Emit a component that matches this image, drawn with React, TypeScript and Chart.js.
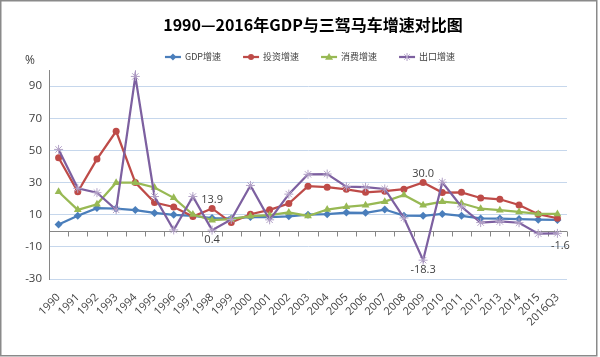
import React, { useEffect, useRef } from "react";
import { Chart, registerables } from "chart.js";

Chart.register(...registerables);

const categories = [
  "1990", "1991", "1992", "1993", "1994", "1995", "1996", "1997", "1998", "1999",
  "2000", "2001", "2002", "2003", "2004", "2005", "2006", "2007", "2008", "2009",
  "2010", "2011", "2012", "2013", "2014", "2015", "2016Q3",
];
const gdpGrowth = [
  3.9, 9.3, 14.1, 13.8, 12.9, 11.1, 9.9, 9.2, 7.9, 7.7,
  8.5, 8.5, 9.0, 10.0, 10.3, 11.3, 11.2, 13.2, 9.4, 9.3,
  10.5, 9.3, 7.7, 7.6, 7.3, 6.9, 6.7,
];
const investGrowth = [
  45.4, 24.3, 44.6, 61.9, 30.0, 17.6, 14.8, 8.9, 13.9, 5.1,
  10.3, 13.0, 16.9, 27.7, 27.1, 25.8, 23.9, 24.6, 25.9, 30.0,
  23.8, 23.9, 20.4, 19.6, 16.0, 10.3, 7.8,
];
const consumptionGrowth = [
  24.3, 13.0, 16.5, 29.9, 29.9, 26.9, 20.5, 10.1, 6.6, 7.2,
  9.1, 9.7, 11.4, 9.2, 13.2, 14.9, 15.9, 18.1, 22.3, 15.9,
  18.1, 17.1, 13.7, 12.8, 11.7, 10.5, 10.5,
];
const exportGrowth = [
  50.6, 26.4, 23.7, 13.0, 96.0, 21.3, 0.5, 21.3, 0.4, 7.0,
  28.2, 6.8, 22.8, 35.1, 35.3, 27.4, 27.1, 26.0, 8.0, -18.3,
  30.2, 14.9, 5.1, 5.8, 5.0, -1.8, -1.6,
];
const yTicks = [-30, -10, 10, 30, 50, 70, 90];
const seriesNames = ["GDP增速", "投资增速", "消费增速", "出口增速"];
const titleText = "1990—2016年GDP与三驾马车增速对比图";
const unitText = "%";
// labelled points: series index, category index, placement
const labelledSeries = [1, 3, 1, 3, 3];
const labelledIndex = [8, 8, 19, 19, 26];
const labelledPlace = ["above", "below", "above", "below", "below"];

const lineColors = ["#4A7EBB", "#BE4B48", "#98B954", "#7D60A0"];
const markerColors = ["#4A7EBB", "#BE4B48", "#98B954", "#B3A2C7"];
const markerStyles = ["rectRot", "circle", "triangle", "star"];
const markerRadii = [4, 3.5, 4.5, 4.5];
const FONT = "'Open Sans', 'Noto Sans CJK SC', sans-serif";
const CJK = "'Noto Sans CJK SC', sans-serif";

const decorPlugin = {
  id: "decor",
  beforeDraw(chart: any) {
    const ctx = chart.ctx;
    ctx.save();
    ctx.fillStyle = "#ffffff";
    ctx.fillRect(0, 0, chart.width, chart.height);
    ctx.restore();
  },
  beforeDatasetsDraw(chart: any) {
    const ctx = chart.ctx;
    const xs = chart.scales.x;
    const ys = chart.scales.y;
    const y0 = Math.round(ys.getPixelForValue(0)) + 0.5;
    const area = chart.chartArea;
    ctx.save();
    ctx.strokeStyle = "#868686";
    ctx.lineWidth = 1;
    ctx.beginPath();
    ctx.moveTo(area.left, y0);
    ctx.lineTo(area.right, y0);
    const step = xs.getPixelForValue(1) - xs.getPixelForValue(0);
    for (let i = 0; i <= categories.length; i++) {
      const x = Math.round(xs.getPixelForValue(i) - step / 2) + 0.5;
      ctx.moveTo(x, y0);
      ctx.lineTo(x, y0 + 5);
    }
    ctx.stroke();
    ctx.restore();
  },
  afterDraw(chart: any) {
    const ctx = chart.ctx;
    const area = chart.chartArea;
    ctx.save();
    // border
    ctx.strokeStyle = "#8a8a8a";
    ctx.lineWidth = 1.5;
    ctx.strokeRect(0.75, 0.75, 596, 355);

    // title
    ctx.fillStyle = "#000000";
    ctx.font = `bold 16px ${CJK}`;
    ctx.textAlign = "center";
    ctx.textBaseline = "middle";
    ctx.fillText(titleText, 313, 25);

    // unit
    ctx.font = `12px ${FONT}`;
    ctx.fillStyle = "#404040";
    ctx.fillText(unitText, 30, 61);

    // legend
    ctx.font = `9px ${CJK}`;
    const lineLen = 16;
    const gapText = 4;
    const gapItem = 22;
    const widths = seriesNames.map((n) => lineLen + gapText + ctx.measureText(n).width);
    const total = widths.reduce((a, b) => a + b, 0) + gapItem * (seriesNames.length - 1);
    let x = 310 - total / 2;
    const ly = 57;
    seriesNames.forEach((name, i) => {
      ctx.strokeStyle = lineColors[i];
      ctx.lineWidth = 2.25;
      ctx.beginPath();
      ctx.moveTo(x, ly);
      ctx.lineTo(x + lineLen, ly);
      ctx.stroke();
      Chart.helpers && null;
      (Chart as any).helpers;
      drawMarker(ctx, markerStyles[i], x + lineLen / 2, ly, markerRadii[i] - 0.5, markerColors[i]);
      ctx.fillStyle = "#404040";
      ctx.textAlign = "left";
      ctx.textBaseline = "middle";
      ctx.fillText(name, x + lineLen + gapText, ly);
      x += widths[i] + gapItem;
    });

    // data labels
    ctx.font = `11px ${FONT}`;
    ctx.fillStyle = "#404040";
    ctx.textAlign = "center";
    labelledSeries.forEach((s, k) => {
      const idx = labelledIndex[k];
      const el = chart.getDatasetMeta(s).data[idx];
      const val = chart.data.datasets[s].data[idx] as number;
      const text = val.toFixed(1);
      if (labelledPlace[k] === "above") {
        ctx.textBaseline = "bottom";
        ctx.fillText(text, el.x, el.y - 3);
      } else {
        ctx.textBaseline = "top";
        const dx = idx === categories.length - 1 ? 3 : 0;
        ctx.fillText(text, el.x + dx, el.y + (idx === categories.length - 1 ? 7 : 4));
      }
    });
    ctx.restore();
  },
};

function drawMarker(ctx: CanvasRenderingContext2D, style: string, x: number, y: number, r: number, color: string) {
  ctx.save();
  ctx.fillStyle = color;
  ctx.strokeStyle = color;
  ctx.lineWidth = 1;
  ctx.beginPath();
  if (style === "rectRot") {
    ctx.moveTo(x, y - r);
    ctx.lineTo(x + r, y);
    ctx.lineTo(x, y + r);
    ctx.lineTo(x - r, y);
    ctx.closePath();
    ctx.fill();
  } else if (style === "circle") {
    ctx.arc(x, y, r, 0, Math.PI * 2);
    ctx.fill();
  } else if (style === "triangle") {
    ctx.moveTo(x, y - r);
    ctx.lineTo(x + r, y + r * 0.7);
    ctx.lineTo(x - r, y + r * 0.7);
    ctx.closePath();
    ctx.fill();
  } else {
    ctx.moveTo(x - r * 0.7, y - r * 0.7);
    ctx.lineTo(x + r * 0.7, y + r * 0.7);
    ctx.moveTo(x + r * 0.7, y - r * 0.7);
    ctx.lineTo(x - r * 0.7, y + r * 0.7);
    ctx.moveTo(x, y - r);
    ctx.lineTo(x, y + r);
    ctx.stroke();
  }
  ctx.restore();
}

export default function App() {
  const canvasRef = useRef<HTMLCanvasElement | null>(null);

  useEffect(() => {
    if (!canvasRef.current) return;
    const series = [gdpGrowth, investGrowth, consumptionGrowth, exportGrowth];
    const chart = new Chart(canvasRef.current, {
      type: "line",
      data: {
        labels: categories,
        datasets: series.map((d, i) => ({
          label: seriesNames[i],
          data: d,
          borderColor: lineColors[i],
          backgroundColor: markerColors[i],
          pointBackgroundColor: markerColors[i],
          pointBorderColor: markerColors[i],
          pointBorderWidth: i === 3 ? 1 : 0,
          pointStyle: markerStyles[i] as any,
          pointRadius: markerRadii[i],
          borderWidth: 2.25,
          tension: 0,
          fill: false,
          order: 4 - i,
        })),
      },
      options: {
        responsive: false,
        animation: false,
        events: [],
        layout: { padding: { top: 70, right: 33, left: 0, bottom: 0 } },
        plugins: {
          legend: { display: false },
          title: { display: false },
          tooltip: { enabled: false },
        },
        scales: {
          x: {
            type: "category",
            offset: true,
            grid: { display: false, drawTicks: false },
            border: { display: false },
            ticks: {
              autoSkip: false,
              maxRotation: 45,
              minRotation: 45,
              padding: 12,
              color: "#404040",
              font: { family: FONT, size: 11 },
            },
            afterFit: (scale: any) => {
              scale.height = 78;
            },
          },
          y: {
            min: -30,
            max: 100,
            afterBuildTicks: (scale: any) => {
              scale.ticks = yTicks.map((v) => ({ value: v }));
            },
            grid: { color: "#C6D7EC", lineWidth: 1, drawTicks: false },
            border: { display: true, color: "#868686", width: 1 },
            ticks: {
              padding: 7,
              color: "#404040",
              font: { family: FONT, size: 11.5 },
            },
            afterFit: (scale: any) => {
              scale.width = 49;
            },
          },
        },
      },
      plugins: [decorPlugin],
    });
    return () => chart.destroy();
  }, []);

  return (
    <div style={{ position: "fixed", left: 0, top: 0, width: 600, height: 357 }}>
      <canvas ref={canvasRef} width={600} height={357} style={{ display: "block" }} />
    </div>
  );
}
